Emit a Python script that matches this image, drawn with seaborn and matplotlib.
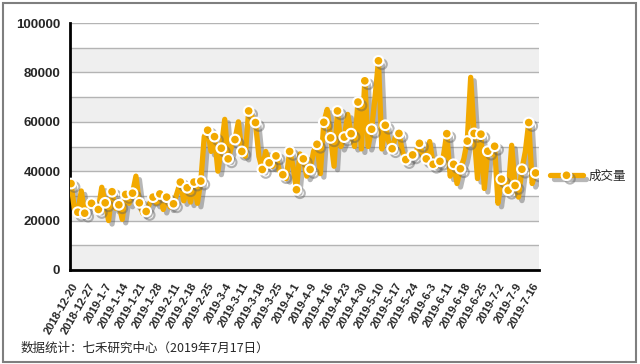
import matplotlib
matplotlib.use("Agg")
import matplotlib.pyplot as plt
import matplotlib.patheffects as pe
from matplotlib.patches import Rectangle
import pandas as pd
import seaborn as sns

# daily trading volume, 2018-12-20 .. 2019-7-17 (137 trading days)
volume = [
    35000, 24500, 23400, 32000, 23000, 26000, 27000, 25000, 24500, 33500,
    27200, 20000, 31700, 25000, 26400, 20500, 30600, 27000, 31100, 38000,
    27200, 23000, 23700, 27000, 29500, 27000, 30800, 24500, 29500, 25500,
    26800, 31000, 35600, 28000, 33300, 27500, 35600, 27000, 36000, 54000,
    56600, 48000, 54000, 40000, 49300, 61000, 45000, 50000, 52800, 60000,
    48000, 46000, 64400, 62000, 59700, 46000, 40700, 48000, 43400, 42000,
    46200, 40000, 38600, 37000, 48000, 42000, 32500, 47000, 45000, 38000,
    40700, 48000, 50900, 39000, 59800, 65000, 53500, 42000, 64400, 50000,
    53800, 63000, 55200, 50000, 68000, 49000, 76600, 50000, 57000, 70000,
    84700, 49000, 58600, 52000, 49100, 54000, 55300, 48000, 44700, 45000,
    46600, 48000, 51300, 46000, 45000, 52000, 42800, 42000, 44000, 46000,
    55200, 38000, 42800, 35000, 41000, 45000, 52200, 78000, 55300, 37000,
    55000, 33000, 48100, 47000, 50100, 27000, 36800, 35000, 32300, 50500,
    34200, 29500, 40800, 48000, 59700, 35000, 39300,
]

tick_labels = [
    "2018-12-20", "2018-12-27", "2019-1-7", "2019-1-14", "2019-1-21",
    "2019-1-28", "2019-2-11", "2019-2-18", "2019-2-25", "2019-3-4",
    "2019-3-11", "2019-3-18", "2019-3-25", "2019-4-1", "2019-4-9",
    "2019-4-16", "2019-4-23", "2019-4-30", "2019-5-10", "2019-5-17",
    "2019-5-24", "2019-6-3", "2019-6-11", "2019-6-18", "2019-6-25",
    "2019-7-2", "2019-7-9", "2019-7-16",
]
tick_step = 5

series_name = "成交量"
footer = "数据统计：七禾研究中心（2019年7月17日）"

df = pd.DataFrame({"day": range(len(volume)), "volume": volume})

sns.set_style("white")
plt.rcParams["font.family"] = ["Liberation Sans", "Noto Sans CJK SC", "DejaVu Sans"]

gold = "#F2A900"

fig = plt.figure(figsize=(6.4, 3.64), dpi=100)
ax = fig.add_axes([70 / 640, 1 - 270 / 364, (539 - 70) / 640, (270 - 23) / 364])

# alternating background bands and grid
for lo in range(0, 100000, 20000):
    ax.axhspan(lo, lo + 10000, color="#efefef", lw=0, zorder=0)
for g in range(10000, 100001, 10000):
    ax.axhline(g, color="#b4b4b4", lw=1, zorder=0.5)

sns.lineplot(
    data=df, x="day", y="volume", ax=ax,
    color=gold, lw=3.8, marker="o", markevery=2, markersize=7,
    markerfacecolor=gold, markeredgecolor="white", markeredgewidth=1.5,
    label=series_name, zorder=3,
    path_effects=[pe.SimpleLineShadow(offset=(2.5, -2.5), shadow_color="#606060", alpha=0.45),
                  pe.Normal()],
)

ax.set_xlim(-0.3, 137)
ax.set_ylim(0, 100000)
ax.set_xlabel("")
ax.set_ylabel("")

ax.set_yticks(range(0, 100001, 20000))
ax.set_yticklabels([str(v) for v in range(0, 100001, 20000)], fontsize=9.5, fontweight="bold")
ax.set_xticks(range(0, tick_step * len(tick_labels), tick_step))
ax.set_xticklabels(tick_labels, rotation=60, ha="right", rotation_mode="anchor",
                   fontsize=8, fontweight="bold")
ax.tick_params(axis="both", direction="out", length=5, width=2, color="black", pad=2)
ax.tick_params(axis="x", pad=3)

for side in ["top", "right"]:
    ax.spines[side].set_visible(False)
for side in ["left", "bottom"]:
    ax.spines[side].set_color("black")
    ax.spines[side].set_linewidth(2)

leg = ax.legend(loc="center left", bbox_to_anchor=(1.0, 0.38), frameon=False,
                fontsize=9, handlelength=2.6, handletextpad=0.5)
for t in leg.get_texts():
    t.set_fontfamily(["Noto Sans CJK SC", "DejaVu Sans"])

fig.text(21 / 640, 1 - 348 / 364, footer, fontsize=9, va="center",
         family=["Noto Sans CJK SC", "DejaVu Sans"])

fig.patches.append(Rectangle((3 / 640, 2 / 364), 633 / 640, 359 / 364,
                             transform=fig.transFigure, fill=False,
                             edgecolor="#7f7f7f", lw=1.5))

fig.savefig("out.png", dpi=100)
